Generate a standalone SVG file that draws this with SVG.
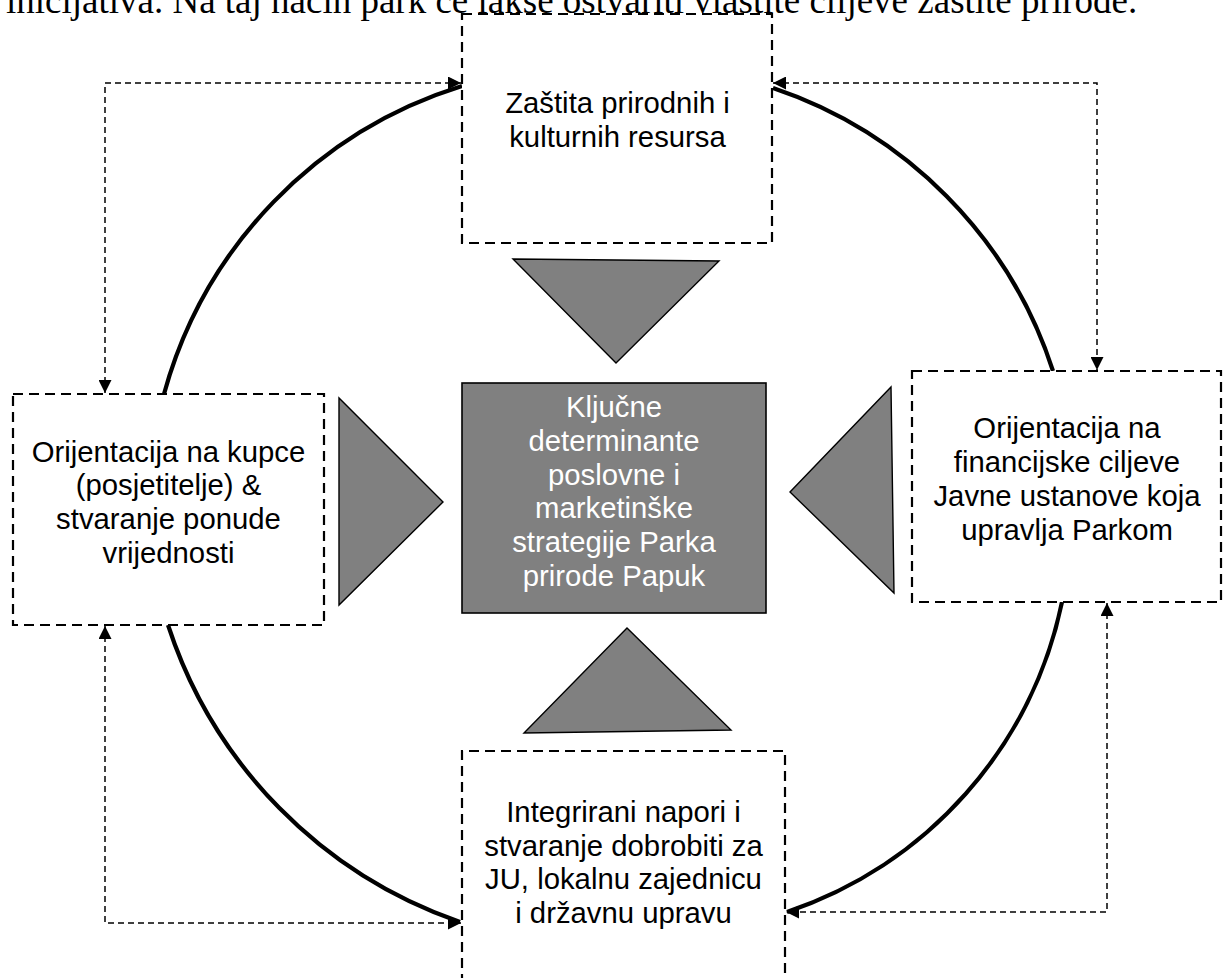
<svg xmlns="http://www.w3.org/2000/svg" width="1223" height="978" viewBox="0 0 1223 978">
<style>
.box{fill:#fff;stroke:#000;stroke-width:2.2;stroke-dasharray:10 6}
.tri{fill:#808080;stroke:#000;stroke-width:1.4;stroke-linejoin:miter}
.lbl{font-family:"Liberation Sans",Arial,sans-serif;font-size:29.3px;fill:#000;text-anchor:middle}
.lblw{font-family:"Liberation Sans",Arial,sans-serif;font-size:29.3px;fill:#fff;text-anchor:middle}
.arc{fill:none;stroke:#000;stroke-width:4.2}
.dash{fill:none;stroke:#000;stroke-width:1.5;stroke-dasharray:6 4;marker-start:url(#ah);marker-end:url(#ah)}
.para{font-family:"Liberation Serif","Times New Roman",serif;font-size:37px;fill:#000}
</style>
<defs>
<marker id="ah" viewBox="0 0 10 10" refX="10" refY="5" markerUnits="userSpaceOnUse" markerWidth="15" markerHeight="13" orient="auto-start-reverse">
<path d="M0,0 L10,5 L0,10 Z" fill="#000"/>
</marker>
</defs>
<rect width="1223" height="978" fill="#fff"/>
<text class="para" x="6" y="13">inicijativa. Na taj način park će lakše ostvariti vlastite ciljeve zaštite prirode.</text>

<g id="connectors">
<path class="arc" d="M164,394 A446,446 0 0 1 462,86"/>
<path class="arc" d="M773,88 A442,442 0 0 1 1053,371"/>
<path class="arc" d="M1062,602 A416,416 0 0 1 787,912"/>
<path class="arc" d="M168,625 A468,468 0 0 0 460,922"/>
<path class="dash" d="M105,393 L105,83 L461,83"/>
<path class="dash" d="M773,83 L1097,83 L1097,370"/>
<path class="dash" d="M1107,603 L1107,912 L786,912"/>
<path class="dash" d="M105,626 L105,923 L461,923"/>
</g>

<g id="node-top">
<rect class="box" x="462" y="14" width="310" height="229"/>
<text class="lbl" x="617.5" y="113">Zaštita prirodnih i</text>
<text class="lbl" x="617.5" y="147">kulturnih resursa</text>
</g>

<g id="node-left">
<rect class="box" x="13" y="394" width="311" height="231"/>
<text class="lbl" x="168.5" y="461.5">Orijentacija na kupce</text>
<text class="lbl" x="168.5" y="495.3">(posjetitelje) &amp;</text>
<text class="lbl" x="168.5" y="529">stvaranje ponude</text>
<text class="lbl" x="168.5" y="562.7">vrijednosti</text>
</g>

<g id="node-right">
<rect class="box" x="912" y="371" width="309" height="231"/>
<text class="lbl" x="1067" y="438">Orijentacija na</text>
<text class="lbl" x="1067" y="472">financijske ciljeve</text>
<text class="lbl" x="1067" y="506">Javne ustanove koja</text>
<text class="lbl" x="1067" y="540">upravlja Parkom</text>
</g>

<g id="node-bottom">
<path class="box" d="M462,1000 L462,751 L785,751 L785,1000"/>
<text class="lbl" x="623.5" y="822">Integrirani napori i</text>
<text class="lbl" x="623.5" y="855.5">stvaranje dobrobiti za</text>
<text class="lbl" x="623.5" y="889">JU, lokalnu zajednicu</text>
<text class="lbl" x="623.5" y="922.5">i državnu upravu</text>
</g>

<g id="node-center">
<rect x="462" y="383" width="304" height="230" fill="#808080" stroke="#000" stroke-width="1.6"/>
<text class="lblw" x="614" y="417">Ključne</text>
<text class="lblw" x="614" y="450.8">determinante</text>
<text class="lblw" x="614" y="484.6">poslovne i</text>
<text class="lblw" x="614" y="518.4">marketinške</text>
<text class="lblw" x="614" y="552.2">strategije Parka</text>
<text class="lblw" x="614" y="586">prirode Papuk</text>
</g>

<g id="triangles">
<polygon class="tri" points="513,259 719,261 616,363"/>
<polygon class="tri" points="339,398 339,605 443,502"/>
<polygon class="tri" points="891,387 894,593 790,492"/>
<polygon class="tri" points="627,628 524,733 731,730"/>
</g>
</svg>
